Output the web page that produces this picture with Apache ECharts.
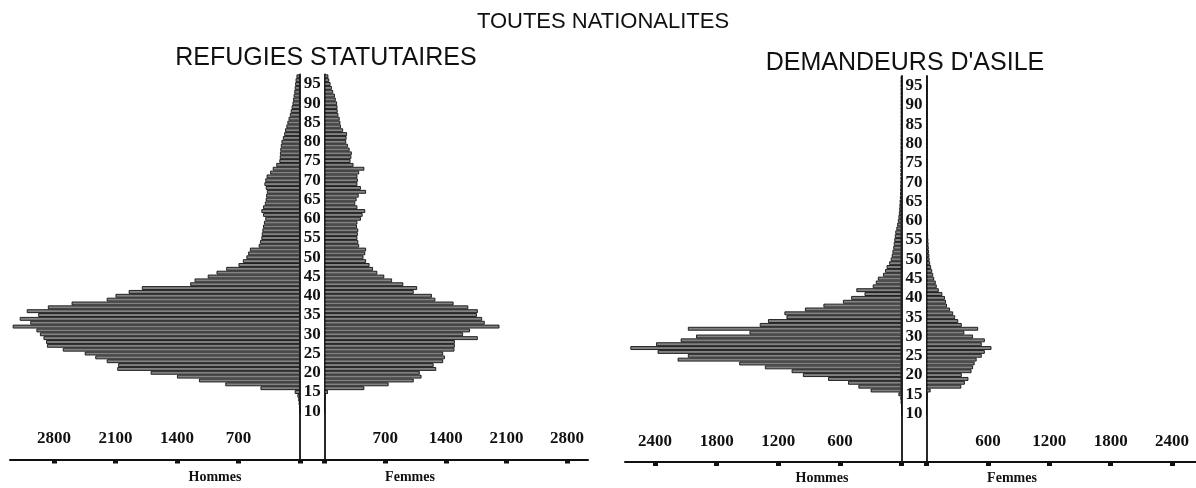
<!DOCTYPE html>
<html><head><meta charset="utf-8">
<script src="https://cdn.jsdelivr.net/npm/echarts@6/dist/echarts.min.js"></script>
<style>html,body{margin:0;padding:0;background:#fff}#c{width:1196px;height:488px}</style>
</head><body><div id="c"></div>
<script>
// ages of the first value in every series array
const firstAge = 10;
// REFUGIES STATUTAIRES, ages 10..97
const refHommes = [0,10,15,20,30,60,450,850,1150,1400,
  1700,2080,2070,2200,2330,2450,2700,2880,2890,2920,
  2960,3000,3270,3070,3190,2980,3110,2870,2600,2200,
  2100,1950,1800,1250,1200,1050,950,840,700,650,
  610,590,570,470,455,440,435,428,420,410,
  395,420,440,420,400,390,385,377,390,405,
  395,380,340,310,270,235,230,228,224,218,
  211,195,180,170,155,143,130,115,105,95,
  85,78,72,65,60,55,50,40];
const refFemmes = [0,0,0,5,15,40,460,740,1030,1120,
  1100,1290,1260,1370,1390,1370,1500,1505,1505,1770,
  1600,1680,2020,1850,1820,1760,1770,1660,1490,1280,
  1240,1030,1070,910,780,690,610,560,520,480,
  450,470,480,400,390,380,385,390,375,380,
  420,440,470,380,355,370,395,480,420,380,
  385,380,400,460,335,300,310,315,290,270,
  250,255,260,215,190,183,175,160,152,150,
  145,130,120,100,85,70,55,45];
// DEMANDEURS D'ASILE, ages 10..97
const demHommes = [0,0,0,5,10,30,300,420,520,715,
  960,1070,1330,1580,2180,2080,2375,2640,2390,2150,
  2000,1480,2080,1380,1300,1120,1140,940,760,570,
  490,360,440,280,250,230,180,160,145,120,
  105,95,88,80,75,70,65,60,50,42,
  35,30,25,22,20,18,15,14,12,11,
  10,9,9,8,8,8,7,7,7,6,
  6,6,6,5,5,5,5,5,5,5,
  5,5,5,5,5,5,5,5];
const demFemmes = [0,0,0,0,5,10,40,340,375,410,
  345,440,455,470,490,540,570,635,540,570,
  455,370,505,345,310,280,260,230,200,190,
  180,155,120,100,90,75,65,55,45,35,
  30,28,25,22,20,18,16,15,14,13,
  12,10,10,10,9,9,9,8,8,8,
  8,7,7,7,7,6,6,6,6,6,
  6,5,5,5,5,5,5,5,5,5,
  5,5,5,5,5,5,5,5];
// age categories (bottom to top) and the ages that carry a label
const ages = [-2,-1,0,1,2,3,4,5,6,7,8,9,10,11,12,13,14,15,16,17,18,19,20,21,22,23,24,25,26,27,28,29,30,31,32,33,34,35,36,37,38,39,40,41,42,43,44,45,46,47,48,49,50,51,52,53,54,55,56,57,58,59,60,61,62,63,64,65,66,67,68,69,70,71,72,73,74,75,76,77,78,79,80,81,82,83,84,85,86,87,88,89,90,91,92,93,94,95,96,97];
const ageLabels = [10,15,20,25,30,35,40,45,50,55,60,65,70,75,80,85,90,95];
const refTicks = [700,1400,2100,2800];
const demTicks = [600,1200,1800,2400];

const INK = '#111';
const SERIF = '"Liberation Serif", "DejaVu Serif", serif';
const SANS = '"Liberation Sans", Arial, sans-serif';

function seriesData(arr) {
  return ages.map(a => {
    const k = a - firstAge;
    return (k >= 0 && k < arr.length) ? arr[k] : null;
  });
}

// panel geometry (pixels)
const panels = [
  {top: 74.4, bottom: 459.4, hLeft: 10, zeroH: 300, zeroF: 324.5, fRight: 588,
   pxH: 246 / 2800, pxF: 242.5 / 2800, ticks: refTicks, hom: refHommes, fem: refFemmes},
  {top: 76, bottom: 461.9, hLeft: 625, zeroH: 901.5, zeroF: 926.5, fRight: 1196,
   pxH: 246.5 / 2400, pxF: 245.5 / 2400, ticks: demTicks, hom: demHommes, fem: demFemmes}
];

const grid = [], xAxis = [], yAxis = [], series = [];
panels.forEach(p => {
  const h = p.bottom - p.top;
  const base = grid.length;
  grid.push({left: p.hLeft, top: p.top, width: p.zeroH - p.hLeft, height: h});
  grid.push({left: p.zeroH, top: p.top, width: p.zeroF - p.zeroH, height: h});
  grid.push({left: p.zeroF, top: p.top, width: p.fRight - p.zeroF, height: h});
  const valAxis = (gi, max, inverse) => ({
    type: 'value', gridIndex: gi, min: 0, max: max, inverse: inverse,
    splitLine: {show: false},
    axisLine: {show: true, onZero: false, lineStyle: {color: INK, width: 2}},
    axisTick: {show: true, customValues: [0].concat(p.ticks), length: 4, lineStyle: {color: INK, width: 5}},
    axisLabel: {show: true, inside: true, customValues: p.ticks, margin: 12,
      formatter: v => String(v),
      fontFamily: SERIF, fontWeight: 'bold', fontSize: 17, color: INK}
  });
  xAxis.push(valAxis(base, (p.zeroH - p.hLeft) / p.pxH, true));
  xAxis.push({type: 'value', gridIndex: base + 1, min: 0, max: 1,
    splitLine: {show: false}, axisTick: {show: false}, axisLabel: {show: false},
    axisLine: {show: true, onZero: false, lineStyle: {color: INK, width: 2}}});
  xAxis.push(valAxis(base + 2, (p.fRight - p.zeroF) / p.pxF, false));
  const catAxis = (gi, position, labels) => ({
    type: 'category', gridIndex: gi, data: ages, position: position,
    axisLine: {show: true, onZero: false, lineStyle: {color: INK, width: 1.8}},
    axisTick: {show: false},
    axisLabel: {show: labels, interval: (i, v) => ageLabels.includes(+v),
      align: 'center', margin: (p.zeroF - p.zeroH) / 2,
      fontFamily: SERIF, fontWeight: 'bold', fontSize: 17, color: INK}
  });
  yAxis.push(catAxis(base, 'right', false));
  yAxis.push(Object.assign(catAxis(base + 1, 'left', false), {show: false}));
  yAxis.push(catAxis(base + 2, 'left', true));
  const bar = (gi, arr) => ({
    type: 'bar', xAxisIndex: gi, yAxisIndex: gi, barCategoryGap: '0%',
    data: seriesData(arr), silent: true,
    itemStyle: {color: '#828282', borderColor: INK, borderWidth: 0.9}
  });
  series.push(bar(base, p.hom));
  series.push(bar(base + 2, p.fem));
});

const mainStyle = {fontFamily: SANS, fontWeight: 'normal', fontSize: 22, color: INK};
const subStyle = {fontFamily: SANS, fontWeight: 'normal', fontSize: 25, color: INK};
const sexStyle = {fontFamily: SERIF, fontWeight: 'bold', fontSize: 14, color: INK};
const option = {
  backgroundColor: '#fff',
  animation: false,
  title: [
    {text: 'TOUTES NATIONALITES', left: 598, top: 6, textAlign: 'center', textStyle: mainStyle},
    {text: 'REFUGIES STATUTAIRES', left: 321, top: 41, textAlign: 'center', textStyle: subStyle},
    {text: "DEMANDEURS D'ASILE", left: 900, top: 46, textAlign: 'center', textStyle: subStyle},
    {text: 'Hommes', left: 210, top: 465, textAlign: 'center', textStyle: sexStyle},
    {text: 'Femmes', left: 405, top: 465, textAlign: 'center', textStyle: sexStyle},
    {text: 'Hommes', left: 817, top: 466, textAlign: 'center', textStyle: sexStyle},
    {text: 'Femmes', left: 1007, top: 466, textAlign: 'center', textStyle: sexStyle}
  ],
  grid: grid, xAxis: xAxis, yAxis: yAxis, series: series
};
const chart = echarts.init(document.getElementById('c'), null, {renderer: 'canvas'});
chart.setOption(option);
</script>
</body></html>
